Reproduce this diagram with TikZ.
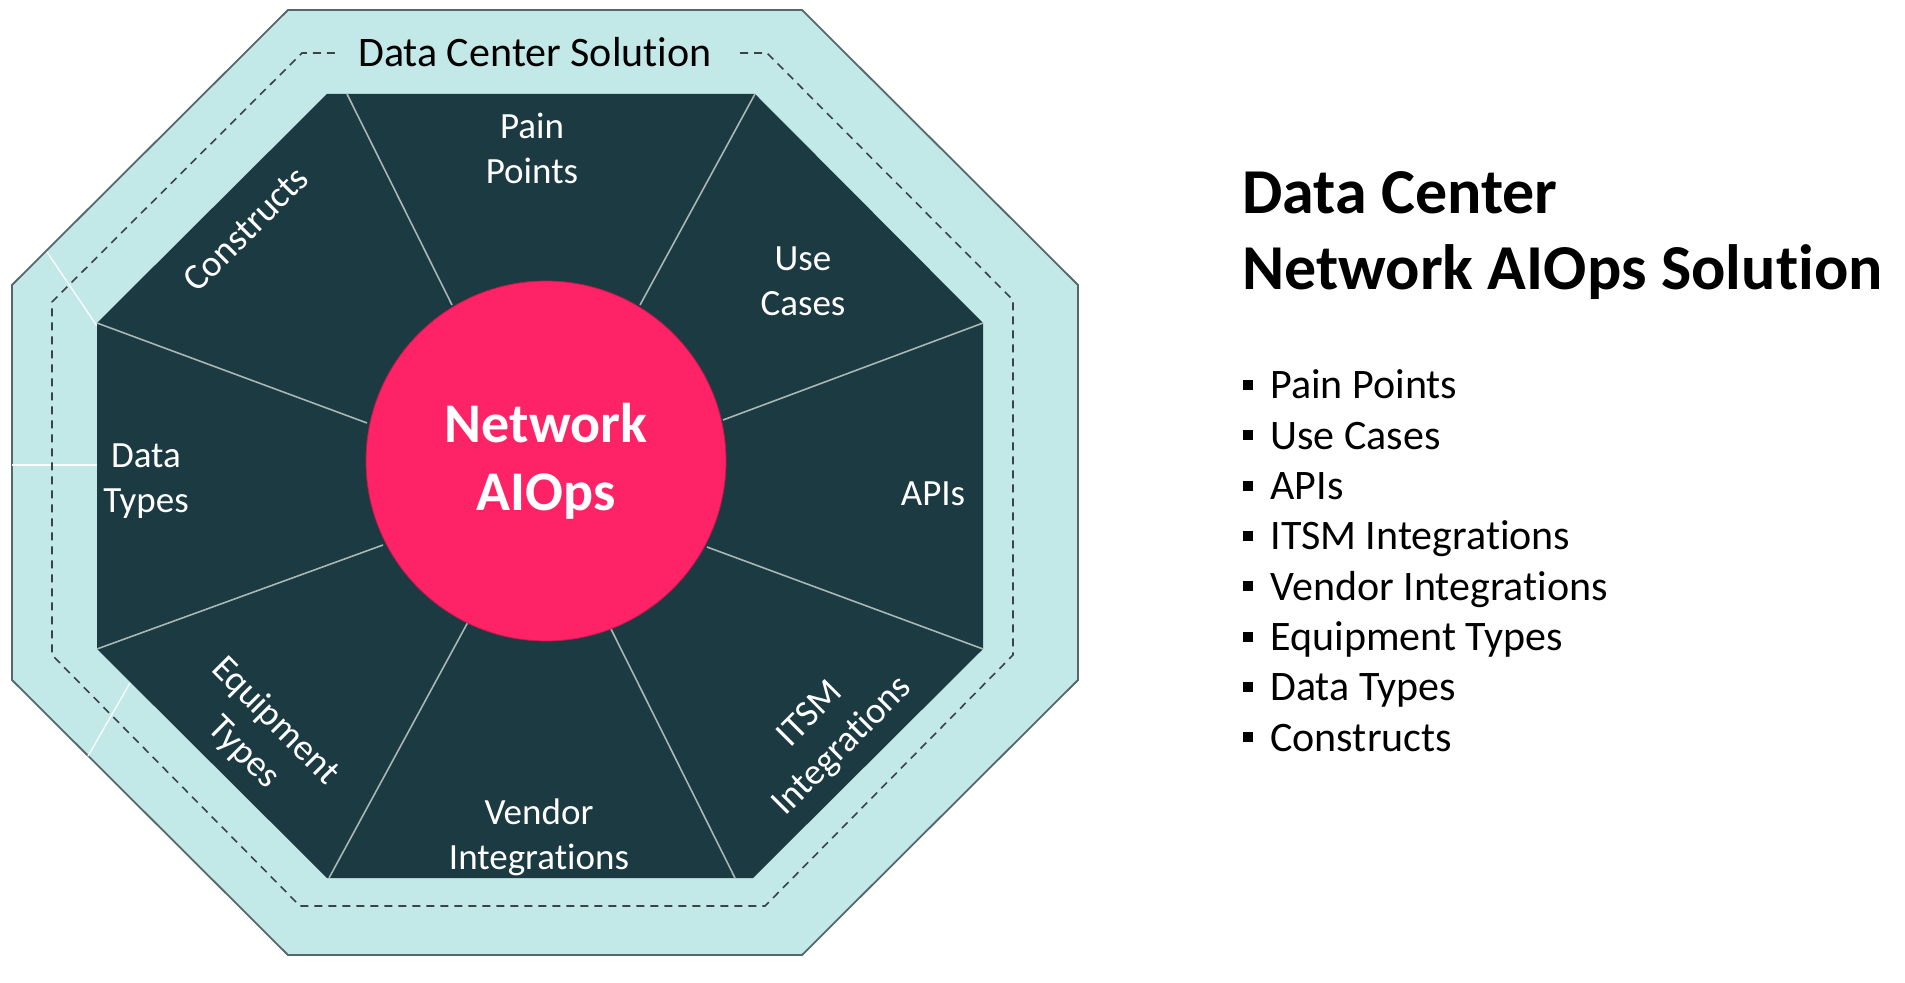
\documentclass[tikz,border=0pt]{standalone}
\usepackage{fontspec}
\setmainfont{Carlito}[Ligatures=NoCommon]
\definecolor{band}{HTML}{C3E8E8}
\definecolor{bandedge}{HTML}{55696B}
\definecolor{core}{HTML}{1C3A42}
\definecolor{hub}{HTML}{FE2366}
\definecolor{spoke}{HTML}{A9B6B6}
\definecolor{dashc}{HTML}{3A4446}
\tikzset{
  bandshape/.style={fill=band, draw=bandedge, line width=0.9pt, line join=miter},
  faint/.style={draw=white!85!band, line width=0.7pt},
  dashline/.style={draw=dashc, line width=0.8pt, dash pattern=on 4pt off 3pt},
  spokeline/.style={draw=spoke, line width=0.8pt},
  seglabel/.style={text=white, align=center, inner sep=0pt, font=\fontsize{18.5}{22.5}\selectfont},
  hubnode/.style={circle, fill=hub, draw=hub!75!black, line width=0.4pt, minimum size=180pt, inner sep=0pt, text=white, align=center, font=\bfseries\fontsize{28}{34}\selectfont},
  listitem/.style={anchor=base west, inner sep=0pt, font=\fontsize{21}{25}\selectfont},
  bulletbox/.style={rectangle, fill=black, minimum size=5pt, inner sep=0pt},
  titleline/.style={anchor=base west, inner sep=0pt, font=\bfseries\fontsize{32}{38}\selectfont}
}
\begin{document}
\begin{tikzpicture}[x=0.5pt,y=-0.5pt]
\useasboundingbox (0,0) rectangle (1905,983);
\fill[white] (0,0) rectangle (1905,983);

% outer band
\path[bandshape] (288,10) -- (802,10) -- (1078,285) -- (1078,680) -- (802,955) -- (288,955) -- (12,680) -- (12,285) -- cycle;

% faint segment lines in band
\coordinate (f1a) at (47,252);  \coordinate (f1b) at (97,326);
\coordinate (f2a) at (12,465);  \coordinate (f2b) at (97,465);
\coordinate (f3a) at (88,756);  \coordinate (f3b) at (130,683);
\draw[faint] (f1a) -- (f1b);
\draw[faint] (f2a) -- (f2b);
\draw[faint] (f3a) -- (f3b);

% dashed boundary with gap for title
\draw[dashline] (740,53) -- (767,53) -- (1013,300) -- (1013,655) -- (765,906) -- (300,906) -- (52,655) -- (52,302) -- (302,53) -- (337,53);
\node[inner sep=0pt, font=\fontsize{21}{25}\selectfont] (dcs) at (535,52) {Data Center Solution};

% inner core octagon
\fill[core] (327,94) -- (755,94) -- (983,323) -- (983,649) -- (753,878) -- (327,878) -- (97,649) -- (97,323) -- cycle;

% spokes
\coordinate (s1o) at (347,94);  \coordinate (s1i) at (452,305);
\coordinate (s2o) at (755,94);  \coordinate (s2i) at (640,305);
\coordinate (s3o) at (983,323); \coordinate (s3i) at (723,420);
\coordinate (s4o) at (983,649); \coordinate (s4i) at (707,547);
\coordinate (s5o) at (735,878); \coordinate (s5i) at (610,627);
\coordinate (s6o) at (329,878); \coordinate (s6i) at (468,622);
\coordinate (s7o) at (97,649);  \coordinate (s7i) at (383,545);
\coordinate (s8o) at (97,323);  \coordinate (s8i) at (367,423);
\foreach \k in {1,...,8}{ \draw[spokeline] (s\k o) -- (s\k i); }

% hub
\node[hubnode] (hub) at (546,461) {Network\\AIOps};

% segment labels
\node[seglabel] (pain) at (532,148) {Pain\\Points};
\node[seglabel] (usec) at (803,281) {Use\\Cases};
\node[seglabel] (apis) at (933,494) {APIs};
\node[seglabel] (itsm) at (827,731) [rotate=45] {ITSM\\Integrations};
\node[seglabel] (vend) at (539,837) {Vendor\\Integrations};
\node[seglabel] (equi) at (259,737) [rotate=-45] {Equipment\\Types};
\node[seglabel] (dtyp) at (146,481) {Data\\Types};
\node[seglabel] (cons) at (246,229) [rotate=45] {Constructs};

% right side title
\node[titleline] (t1) at (1242,214) {Data Center};
\node[titleline] (t2) at (1242,290) {Network AIOps Solution};

% bullet list
\foreach \i/\txt in {0/Pain Points,1/Use Cases,2/APIs,3/ITSM Integrations,4/Vendor Integrations,5/Equipment Types,6/Data Types,7/Constructs}{
  \node[bulletbox] (b\i) at (1248,{385+50.3*\i}) {};
  \node[listitem] (l\i) at (1270,{399+50.3*\i}) {\txt};
}
\end{tikzpicture}
\end{document}
